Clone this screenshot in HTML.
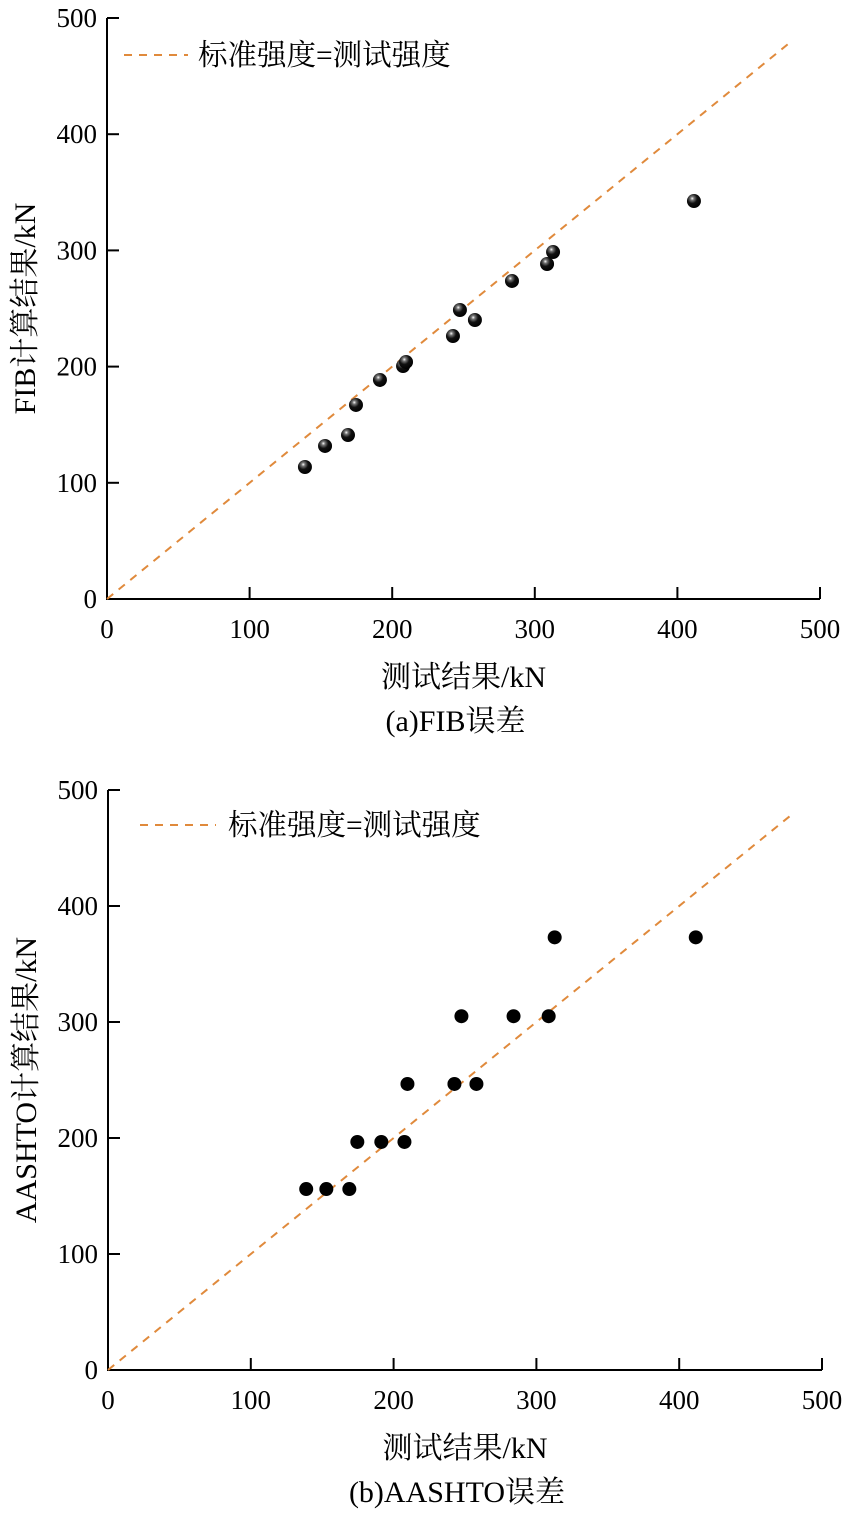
<!DOCTYPE html>
<html><head><meta charset="utf-8"><style>
body{margin:0;background:#fff;}
svg text{font-family:"Liberation Serif","Noto Serif CJK SC",serif;fill:#000;}
</style></head><body>
<svg width="854" height="1523" xmlns="http://www.w3.org/2000/svg">
<defs><radialGradient id="sph" cx="0.38" cy="0.32" r="0.7"><stop offset="0" stop-color="#fff"/><stop offset="0.18" stop-color="#777"/><stop offset="0.5" stop-color="#111"/><stop offset="1" stop-color="#000"/></radialGradient></defs>
<g id="c1"></g>
<g id="c2"></g>
</svg>
<script>
const ticks=[0,100,200,300,400,500];
const testX=[138.8,152.9,169,174.6,191.4,207.6,209.7,242.6,247.5,258,284,308.6,312.8,411.6];
const fibY=[113.6,131.7,141.1,167,188.5,200.5,204,226.3,248.7,240.1,273.7,288.3,298.6,342.5];
const aashtoY=[156,156,156,196.6,196.6,196.6,246.6,246.6,305,246.6,305,305,373,373];
const lineEnd=480;
const NS="http://www.w3.org/2000/svg";
function mk(p,t,a){const e=document.createElementNS(NS,t);for(const k in a)e.setAttribute(k,a[k]);p.appendChild(e);return e;}
function chart(g,cfg){
 const sx=v=>cfg.x0+(cfg.x1-cfg.x0)*v/500, sy=v=>cfg.y0-(cfg.y0-cfg.y1)*v/500;
 let ax=mk(g,'path',{d:`M${cfg.x0} ${cfg.y1}V${cfg.y0}H${cfg.x1}`,stroke:'#000','stroke-width':2,fill:'none'});
 
 
 ticks.forEach(t=>{
  let a=mk(g,'line',{x1:sx(t),x2:sx(t),y1:cfg.y0,y2:cfg.y0-12,stroke:'#000','stroke-width':2});
  
  
  let b=mk(g,'line',{x1:cfg.x0,x2:cfg.x0+12,y1:sy(t),y2:sy(t),stroke:'#000','stroke-width':2});
  
  
  let tx=mk(g,'text',{x:sx(t),y:cfg.y0+39,'font-size':27,'text-anchor':'middle'});tx.textContent=t;
  
  
  let ty=mk(g,'text',{x:cfg.x0-10,y:sy(t)+9,'font-size':27,'text-anchor':'end'});ty.textContent=t;
  
  
 });
 let dl=mk(g,'line',{x1:sx(0),y1:sy(0),x2:sx(lineEnd),y2:sy(lineEnd),stroke:'#e08a3c','stroke-width':2,'stroke-dasharray':'8,7'});
 
 
 let ll=mk(g,'line',{x1:cfg.lx,y1:cfg.ly,x2:cfg.lx+cfg.lw,y2:cfg.ly,stroke:'#e08a3c','stroke-width':2,'stroke-dasharray':'8,7'});
 
 
 let lt=mk(g,'text',{x:cfg.ltx,y:cfg.ly+10,'font-size':29.5});lt.textContent='标准强度=测试强度';
 
 
 testX.forEach((v,i)=>{
  let c=mk(g,'circle',{cx:sx(v),cy:sy(cfg.ys[i]),r:7,fill:cfg.fill});
  
  
 });
 let xt=mk(g,'text',{x:(cfg.x0+cfg.x1)/2,y:cfg.y0+88,'font-size':30,'text-anchor':'middle'});xt.textContent='测试结果/kN';
 
 
 let yt=mk(g,'text',{x:0,y:0,'font-size':30,'text-anchor':'middle',transform:`translate(${cfg.x0-72},${(cfg.y0+cfg.y1)/2}) rotate(-90)`});yt.textContent=cfg.ytitle;
 
 
 let cap=mk(g,'text',{x:(cfg.x0+cfg.x1)/2-8,y:cfg.y0+132,'font-size':30,'text-anchor':'middle'});cap.textContent=cfg.cap;
 
 
}
chart(document.getElementById('c1'),{x0:107,x1:820,y0:599,y1:18,ys:fibY,fill:'url(#sph)',lx:124,lw:64,ltx:198,ly:55,ytitle:'FIB计算结果/kN',cap:'(a)FIB误差'});
chart(document.getElementById('c2'),{x0:108,x1:822,y0:1370,y1:790,ys:aashtoY,fill:'#000',lx:140,lw:76,ltx:228,ly:825,ytitle:'AASHTO计算结果/kN',cap:'(b)AASHTO误差'});
</script>
</body></html>
